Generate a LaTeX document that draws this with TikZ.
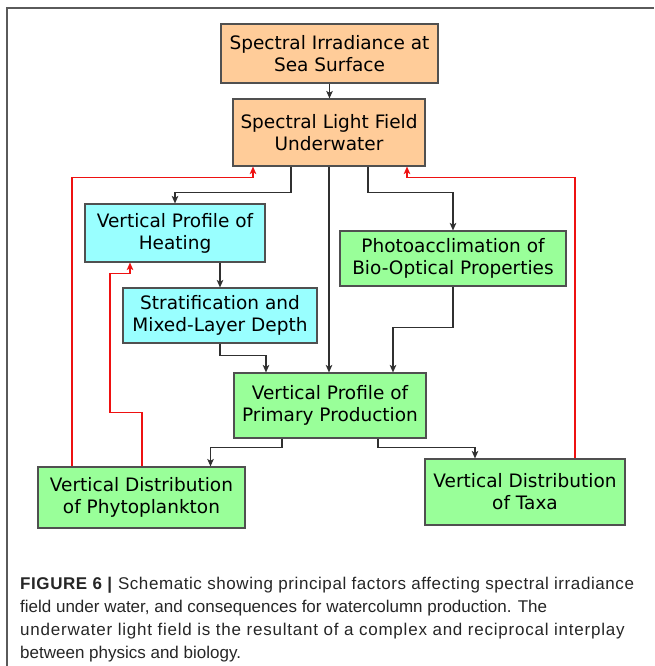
\documentclass[tikz,border=0pt]{standalone}
\usepackage{fontspec}
\setmainfont{DejaVu Sans}
\newfontfamily\capfont{Liberation Sans}
\usetikzlibrary{arrows.meta,calc}
\definecolor{orangebox}{HTML}{FFCC99}
\definecolor{cyanbox}{HTML}{99FFFF}
\definecolor{greenbox}{HTML}{99FF99}
\definecolor{boxline}{HTML}{505050}
\definecolor{linegray}{HTML}{303030}
\definecolor{fbred}{HTML}{EE1111}
\definecolor{captext}{HTML}{262626}
\definecolor{framegray}{HTML}{5A5A5A}
\begin{document}
\begin{tikzpicture}[x=1pt,y=-1pt,
  box/.style={draw=boxline, line width=1.1pt, inner sep=0pt, align=center,
    font=\fontsize{18.5}{22}\selectfont, text=black},
  tip/.style={-{Stealth[length=7.5pt,width=6.5pt,inset=1.8pt]}},
  conn/.style={draw=linegray, line width=1.1pt, tip},
  fb/.style={draw=fbred, line width=1.1pt, tip},
  capline/.style={anchor=base west, inner sep=0pt, text=captext,
    font=\capfont\fontsize{17}{23}\selectfont}
]
\useasboundingbox (0,0) rectangle (654,666);
\fill[white] (0,0) rectangle (654,666);
\draw[framegray, line width=1.6pt] (7,666) -- (7,8) -- (654,8);

% boxes
\node[box, fill=orangebox, minimum width=217pt, minimum height=59pt] (irr) at (329.5,53.5) {Spectral Irradiance at\\Sea Surface};
\node[box, fill=orangebox, minimum width=192pt, minimum height=67pt] (lf) at (329,132.5) {Spectral Light Field\\Underwater};
\node[box, fill=cyanbox, minimum width=180pt, minimum height=58pt] (heat) at (175,233) {Vertical Profile of\\Heating};
\node[box, fill=greenbox, minimum width=226pt, minimum height=55pt] (photo) at (453,258.5) {Photoacclimation of\\Bio-Optical Properties};
\node[box, fill=cyanbox, minimum width=194pt, minimum height=55pt] (strat) at (220,315.5) {Stratification and\\Mixed-Layer Depth};
\node[box, fill=greenbox, minimum width=192pt, minimum height=65pt] (pp) at (330,405.5) {Vertical Profile of\\Primary Production};
\node[box, fill=greenbox, minimum width=207pt, minimum height=61pt] (phyto) at (141.5,497.5) {Vertical Distribution\\of Phytoplankton};
\node[box, fill=greenbox, minimum width=200pt, minimum height=66pt] (taxa) at (525,492) {Vertical Distribution\\of Taxa};

% black connectors
\draw[conn] (irr.south) -- (irr.south |- lf.north);
\draw[conn] ([xshift=-38pt]lf.south) -- ++(0,26) -| (heat.north);
\draw[conn] (lf.south) -- (lf.south |- pp.north);
\draw[conn] ([xshift=39pt]lf.south) -- ++(0,26) -| (photo.north);
\draw[conn] (strat.north |- heat.south) -- (strat.north);
\draw[conn] (strat.south) -- ++(0,12) -| ([xshift=-64pt]pp.north);
\draw[conn] (photo.south) -- ++(0,41) -| ([xshift=63pt]pp.north);
\draw[conn] ([xshift=-48pt]pp.south) -- ++(0,9) -| ([xshift=69pt]phyto.north);
\draw[conn] ([xshift=48pt]pp.south) -- ++(0,9) -| ([xshift=-50pt]taxa.north);

% red feedback connectors
\draw[fb] ([xshift=-69.5pt]phyto.north) -- ++(0,-289) -| ([xshift=-76pt]lf.south);
\draw[fb] ([xshift=0.5pt]phyto.north) -- ++(0,-54) -- ++(-32,0) -- ++(0,-139) -| ([xshift=-45pt]heat.south);
\draw[fb] ([xshift=50pt]taxa.north) -- ++(0,-281) -| ([xshift=78pt]lf.south);

% caption
\node[capline] (c1) at (20,589) {\addfontfeature{LetterSpace=3.4}\textbf{FIGURE 6 |} Schematic showing principal factors affecting spectral irradiance};
\node[capline] (c2) at (20,612) {field under water, and consequences for watercolumn production. The};
\node[capline] (c3) at (20,635) {\addfontfeature{LetterSpace=4.6}underwater light field is the resultant of a complex and reciprocal interplay};
\node[capline] (c4) at (20,658) {between physics and biology.};
\end{tikzpicture}
\end{document}
